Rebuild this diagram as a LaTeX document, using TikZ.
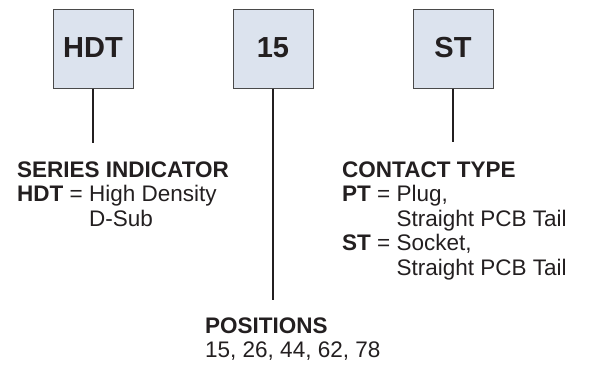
\documentclass[tikz,border=0pt]{standalone}
\usepackage{fontspec}
\setmainfont{Liberation Sans}
\definecolor{boxfill}{HTML}{DCE3EE}
\definecolor{ink}{HTML}{231F20}
\definecolor{boxline}{HTML}{4A4A4A}
\begin{document}
\begin{tikzpicture}[x=1pt,y=1pt,
  codebox/.style={draw=boxline, line width=1pt, fill=boxfill, minimum width=80pt,
    minimum height=79pt, inner sep=0pt, text=ink,
    font=\fontsize{29}{29}\selectfont\bfseries},
  txt/.style={anchor=base west, inner sep=0pt, text=ink,
    font=\fontsize{22.5}{26}\selectfont},
  lead/.style={draw=ink, line width=1.6pt}]
\useasboundingbox (0,0) rectangle (591,-364);
% code boxes
\node[codebox] (hdt) at (93,-48.5) {\raisebox{2pt}{HDT}};
\node[codebox] (pos) at (273,-48.5) {\raisebox{2pt}{15}};
\node[codebox] (ct)  at (453,-48.5) {\raisebox{2pt}{ST}};
% leader lines
\coordinate (hdtend) at (93,-143);
\coordinate (posend) at (273,-300);
\coordinate (ctend)  at (453,-142);
\draw[lead] (hdt.south) -- (hdtend);
\draw[lead] (pos.south) -- (posend);
\draw[lead] (ct.south) -- (ctend);
% series indicator
\node[txt] (si)  at (17,-177) {\bfseries SERIES INDICATOR};
\node[txt] (si1) at (17,-201.5) {\textbf{HDT} = High Density};
\node[txt] (si2) at (17,-226) {\hphantom{\textbf{HDT} = }D-Sub};
% contact type
\node[txt] (ctt) at (342,-177) {\bfseries CONTACT TYPE};
\node[txt] (ct1) at (342,-201.5) {\textbf{PT} = Plug,};
\node[txt] (ct2) at (342,-226) {\hphantom{\textbf{PT} = }Straight PCB Tail};
\node[txt] (ct3) at (342,-250.5) {\textbf{ST} = Socket,};
\node[txt] (ct4) at (342,-275) {\hphantom{\textbf{ST} = }Straight PCB Tail};
% positions
\node[txt] (pst) at (205,-333) {\bfseries POSITIONS};
\node[txt] (ps1) at (205,-357) {15, 26, 44, 62, 78};
\end{tikzpicture}
\end{document}
